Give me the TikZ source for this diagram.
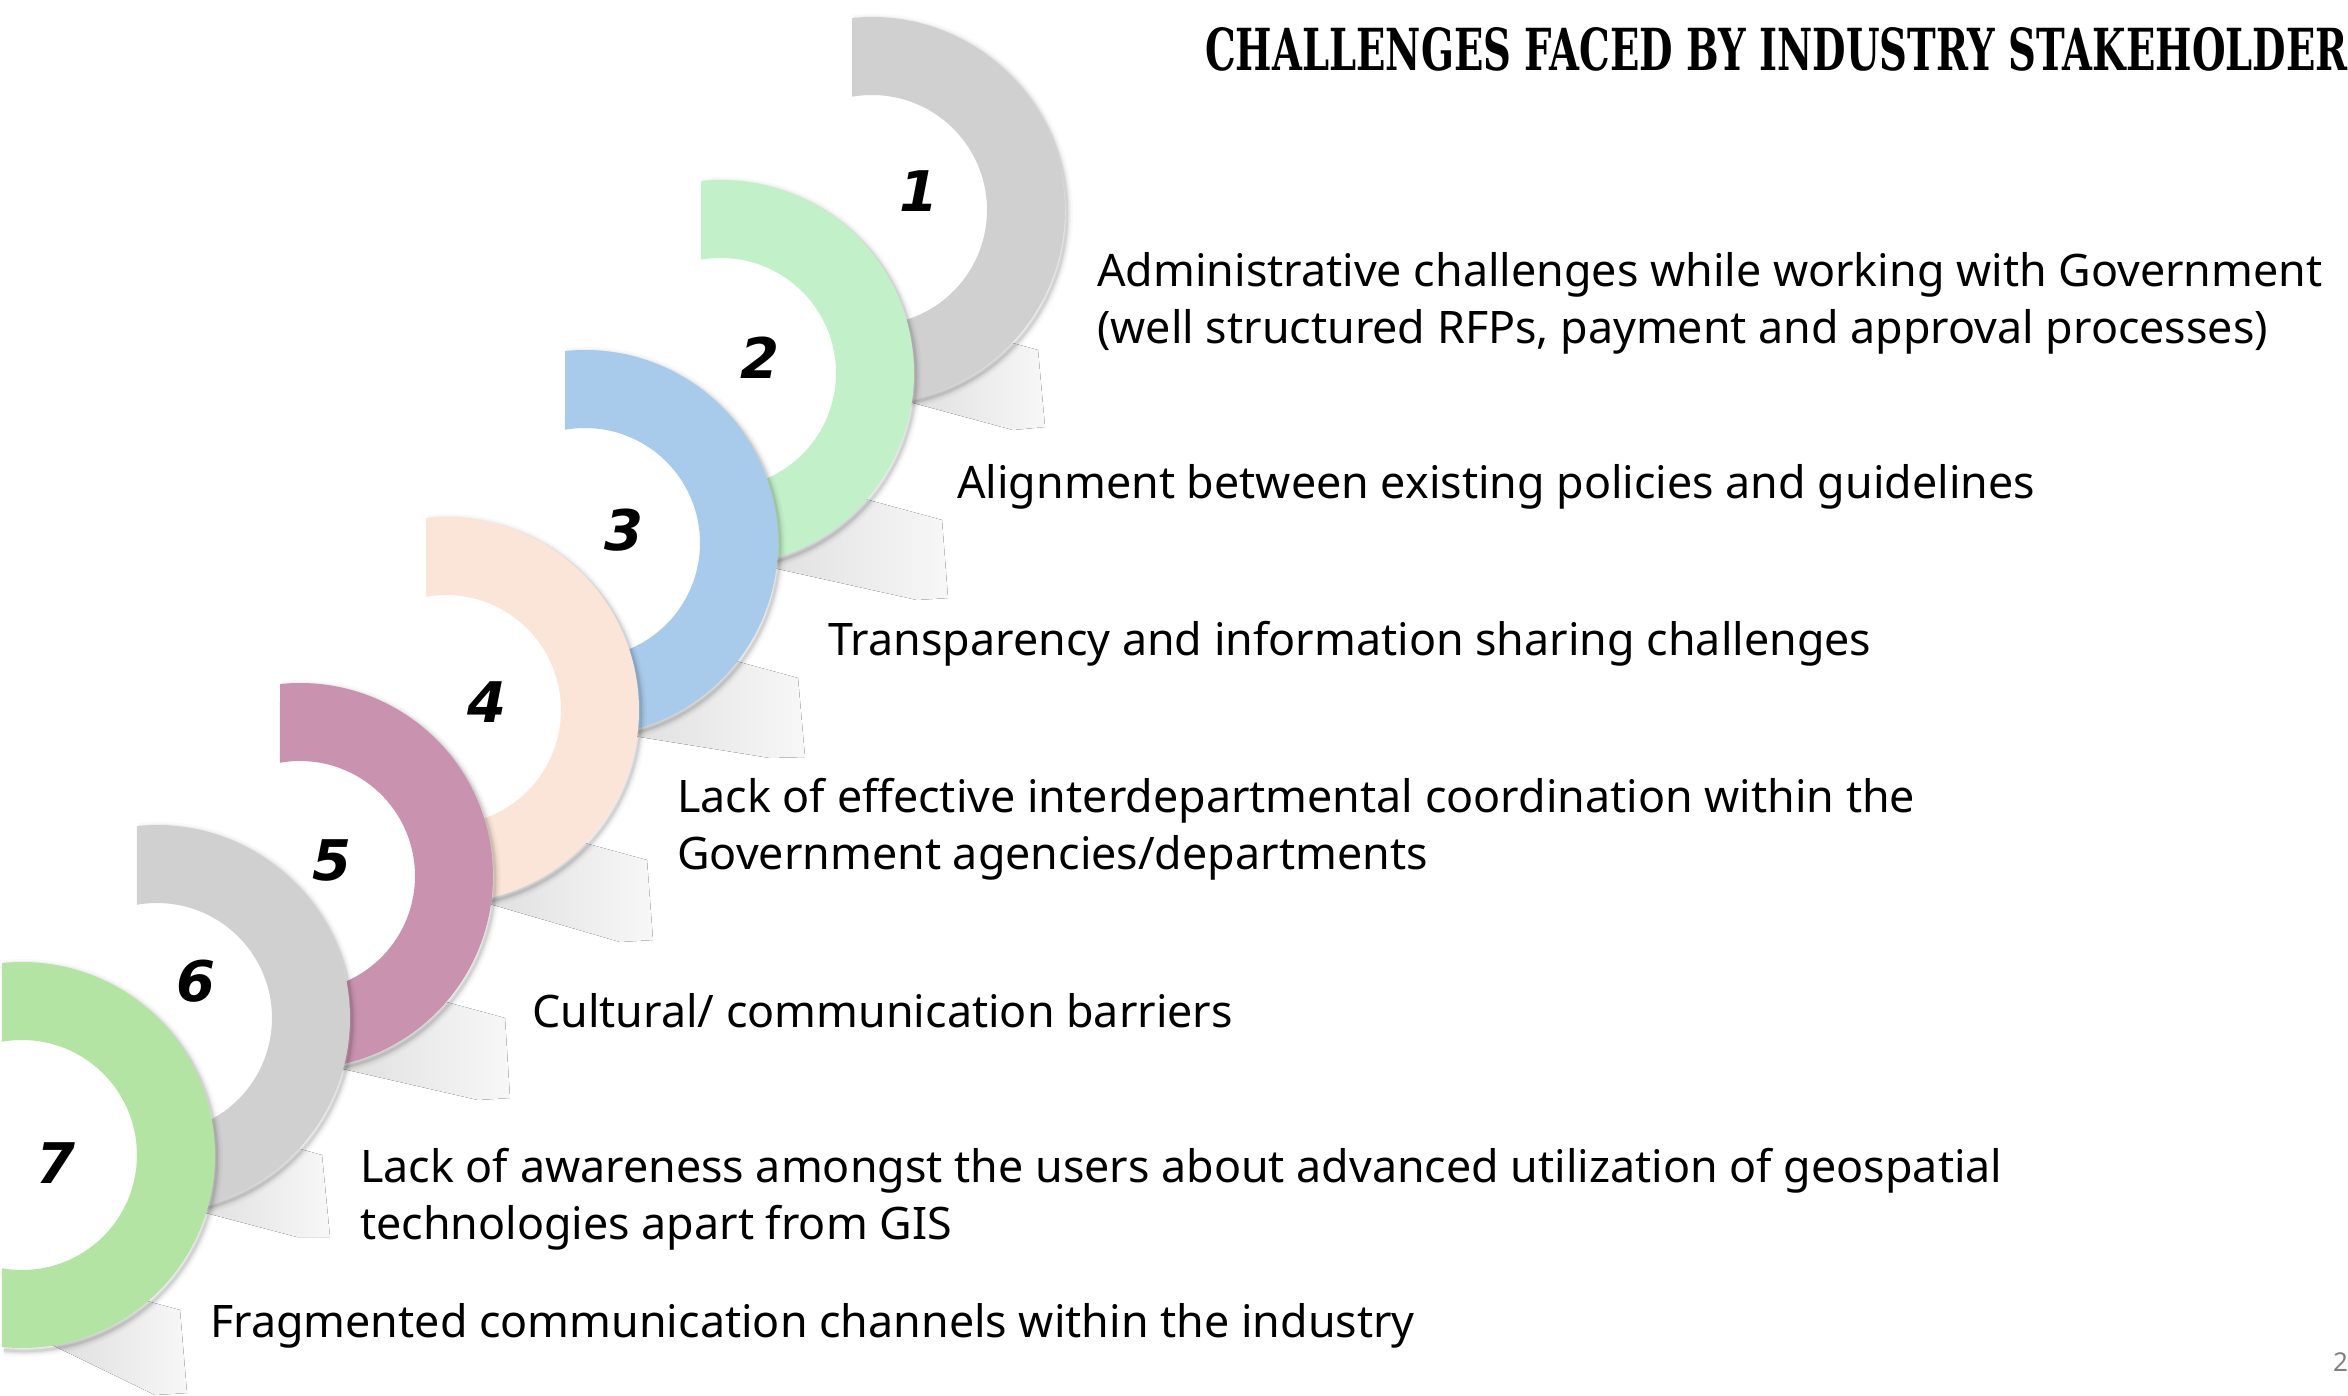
\documentclass[tikz,border=0pt]{standalone}
\usepackage{fontspec}
\usepackage{graphicx}
\setmainfont{Noto Sans}
\newfontfamily\titlefont{DejaVu Serif}
\newfontfamily\numfont{DejaVu Sans}
\definecolor{ringA}{HTML}{D0D0D0}
\definecolor{ringB}{HTML}{C2F0C8}
\definecolor{ringC}{HTML}{A8CAEB}
\definecolor{ringD}{HTML}{FBE5D9}
\definecolor{ringE}{HTML}{C993AF}
\definecolor{ringF}{HTML}{D0D0D0}
\definecolor{ringG}{HTML}{B4E4A4}
\tikzset{
  desc/.style={anchor=base west, inner sep=0pt, font=\fontsize{44.8}{57}\selectfont},
  numlabel/.style={inner sep=0pt, font=\numfont\fontsize{56}{56}\selectfont\bfseries\itshape},
  wedgefill/.style={left color=black!13, right color=black!3},
}
% cx, cy (image coords), color
\newcommand\halfring[3]{%
  \begin{scope}[shift={(#1,-#2)}]
    \begin{scope}[shift={(2,-3)}]
      \foreach \w/\o in {12/0.025,8/0.035,5/0.05,2.5/0.07}
        \draw[line width=\w pt, black, opacity=\o] (96:193) arc[start angle=96,end angle=-96,radius=193];
    \end{scope}
    \fill[#3] (95.95:193) arc[start angle=95.95,end angle=-95.95,radius=193]
      -- (-100.02:115) arc[start angle=-100.02,end angle=100.02,radius=115] -- cycle;
  \end{scope}}
% cx, cy, TR, BR, BL offsets (image y down)
\newcommand\ringwedge[8]{%
  \fill[wedgefill, shift={(#1,-#2)}]
    (#3-110,-#4+30) -- (#3,-#4) -- (#5,-#6) -- (#7,-#8) -- (30,-190) -- cycle;}
\begin{document}
\begin{tikzpicture}[x=1pt,y=1pt]
\useasboundingbox (0,0) rectangle (2348,-1395);
\fill[white] (0,0) rectangle (2348,-1395);
\clip (0,0) rectangle (2348,-1395);

\ringwedge{872}{210}{166}{140}{173}{217}{141}{220}
\halfring{872}{210}{ringA}
\ringwedge{721}{373}{221}{147}{227}{225}{196}{227}
\halfring{721}{373}{ringB}
\ringwedge{585}{543}{213}{135}{220}{214}{185}{215}
\halfring{585}{543}{ringC}
\ringwedge{446}{710}{201}{150}{207}{230}{174}{232}
\halfring{446}{710}{ringD}
\ringwedge{300}{876}{205}{142}{210}{222}{178}{224}
\halfring{300}{876}{ringE}
\ringwedge{157}{1018}{165}{137}{173}{219}{140}{219}
\halfring{157}{1018}{ringF}
\ringwedge{22}{1155}{158}{155}{165}{238}{133}{240}
\halfring{22}{1155}{ringG}

\node[numlabel] (n1) at (919,-191) {1};
\node[numlabel] (n2) at (760,-358) {2};
\node[numlabel] (n3) at (624,-530) {3};
\node[numlabel] (n4) at (487,-702) {4};
\node[numlabel] (n5) at (332,-860) {5};
\node[numlabel] (n6) at (196,-981) {6};
\node[numlabel] (n7) at (56,-1163) {7};

\node[desc] (t1) at (1097,-286) {\vtop{\hbox{Administrative challenges while working with Government}\hbox{(well structured RFPs, payment and approval processes)}}};
\node[desc] (t2) at (957,-498) {Alignment between existing policies and guidelines};
\node[desc] (t3) at (828,-655) {Transparency and information sharing challenges};
\node[desc] (t4) at (677,-812) {\vtop{\hbox{Lack of effective interdepartmental coordination within the}\hbox{Government agencies/departments}}};
\node[desc] (t5) at (532,-1027) {Cultural/ communication barriers};
\node[desc] (t6) at (360,-1182) {\vtop{\hbox{Lack of awareness amongst the users about advanced utilization of geospatial}\hbox{technologies apart from GIS}}};
\node[desc] (t7) at (210,-1337) {Fragmented communication channels within the industry};

\node[anchor=base west, inner sep=0pt] (title) at (1205,-70) {\resizebox{1142pt}{43pt}{\titlefont\bfseries CHALLENGES FACED BY INDUSTRY STAKEHOLDER}};
\node[anchor=base west, inner sep=0pt, text=black!50, font=\fontsize{26}{26}\selectfont] (page) at (2333,-1371) {2};
\end{tikzpicture}
\end{document}
